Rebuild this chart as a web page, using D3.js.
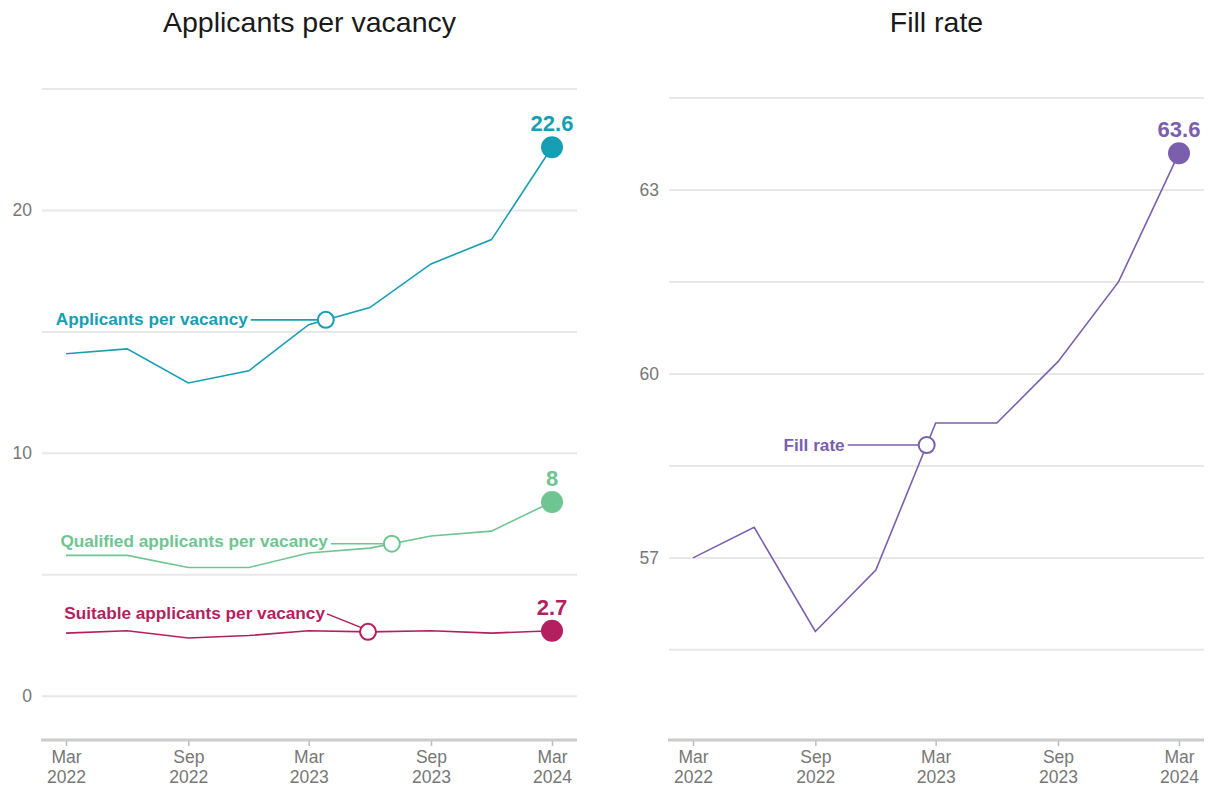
<!DOCTYPE html>
<html>
<head>
<meta charset="utf-8">
<script src="https://cdn.jsdelivr.net/npm/d3@7"></script>
<style>
  body { margin: 0; background: #fff; }
  svg { display: block; font-family: "Liberation Sans", Arial, sans-serif; }
</style>
</head>
<body>
<svg id="chart" width="1208" height="787"></svg>
<script>
// quarterly observations, Mar 2022 - Mar 2024
const months = ["2022-03", "2022-06", "2022-09", "2022-12", "2023-03", "2023-06", "2023-09", "2023-12", "2024-03"];
const applicants = [14.1, 14.3, 12.9, 13.4, 15.3, 16.0, 17.8, 18.8, 22.6];
const qualified = [5.8, 5.8, 5.3, 5.3, 5.9, 6.1, 6.6, 6.8, 8.0];
const suitable = [2.6, 2.7, 2.4, 2.5, 2.7, 2.65, 2.7, 2.6, 2.7];
const fillRate = [57.0, 57.5, 55.8, 56.8, 59.2, 59.2, 60.2, 61.5, 63.6];

const xTicks = ["2022-03", "2022-09", "2023-03", "2023-09", "2024-03"];
const leftGrid = [0, 5, 10, 15, 20, 25];
const leftLabels = [0, 10, 20];
const rightGrid = [55.5, 57, 58.5, 60, 61.5, 63, 64.5];
const rightLabels = [57, 60, 63];

const parse = d3.timeParse("%Y-%m");
const dates = months.map(parse);
const fmtMon = d3.timeFormat("%b");
const fmtYear = d3.timeFormat("%Y");

const svg = d3.select("#chart");
const axisY = 740;

function panel(opts) {
    const g = svg.append("g");
    const x = d3.scaleTime().domain(d3.extent(dates)).range([opts.x0, opts.x0 + 486]);
    const y = d3.scaleLinear().domain(opts.yDomain).range([axisY, opts.yTop]);
    const gl = opts.x0 - 24, gr = opts.x0 + 486 + 25;

    g.append("text")
        .attr("x", (gl + gr) / 2).attr("y", 32)
        .attr("text-anchor", "middle")
        .attr("font-size", 28.5).attr("fill", "#1a1a1a")
        .text(opts.title);

    g.selectAll("line.grid").data(opts.grid).enter().append("line")
        .attr("class", "grid")
        .attr("x1", gl).attr("x2", gr)
        .attr("y1", d => y(d)).attr("y2", d => y(d))
        .attr("stroke", "#e8e8e8").attr("stroke-width", 2);

    g.selectAll("text.ylab").data(opts.labels).enter().append("text")
        .attr("class", "ylab")
        .attr("x", gl - 10).attr("y", d => y(d) + 6)
        .attr("text-anchor", "end")
        .attr("font-size", 17.5).attr("fill", "#777")
        .text(d => d);

    // x axis
    const xAxis = d3.axisBottom(x).tickValues(xTicks.map(parse)).tickSize(6).tickFormat("");
    const ax = g.append("g").attr("transform", `translate(0,${axisY})`).call(xAxis);
    ax.select(".domain").remove();
    ax.selectAll(".tick line").attr("stroke", "#bbb").attr("stroke-width", 1.5);
    ax.selectAll(".tick").each(function (d) {
        const t = d3.select(this).append("text")
            .attr("text-anchor", "middle").attr("font-size", 17.5).attr("fill", "#777");
        t.append("tspan").attr("x", 0).attr("y", 23).text(fmtMon(d));
        t.append("tspan").attr("x", 0).attr("y", 43).text(fmtYear(d));
    });
    g.append("line")
        .attr("x1", gl - 1).attr("x2", gr)
        .attr("y1", axisY).attr("y2", axisY)
        .attr("stroke", "#ccc").attr("stroke-width", 3);

    const line = d3.line().x((d, i) => x(dates[i])).y(d => y(d));

    opts.series.forEach(s => {
        g.append("path").datum(s.values)
            .attr("d", line)
            .attr("fill", "none").attr("stroke", s.color).attr("stroke-width", 1.6);

        // end point + value
        const n = s.values.length - 1;
        const ex = x(dates[n]), ey = y(s.values[n]);
        g.append("circle").attr("cx", ex).attr("cy", ey).attr("r", 11).attr("fill", s.color);
        g.append("text")
            .attr("x", ex).attr("y", ey - 16)
            .attr("text-anchor", "middle")
            .attr("font-size", 22).attr("font-weight", "bold").attr("fill", s.color)
            .text(s.values[n]);

        // label anchor on the line
        const i0 = Math.floor(s.at), f = s.at - i0;
        const mx = x(dates[i0]) + f * (x(dates[i0 + 1]) - x(dates[i0]));
        const my = y(s.values[i0]) + f * (y(s.values[i0 + 1]) - y(s.values[i0]));
        const lx = mx - s.dx, ly = my - s.dy;
        const d = s.dy
            ? `M${lx + 2},${ly} L${mx - 6},${my - 4}`
            : `M${lx + 3},${ly} L${mx - 8},${ly}`;
        g.append("path")
            .attr("d", d)
            .attr("fill", "none").attr("stroke", s.color).attr("stroke-width", 1.6);
        g.append("circle").attr("cx", mx).attr("cy", my).attr("r", 8)
            .attr("fill", "#fff").attr("stroke", s.color).attr("stroke-width", 2);
        g.append("text")
            .attr("x", lx).attr("y", ly + 5.5 - (s.lift || 0))
            .attr("text-anchor", "end")
            .attr("font-size", 17.2).attr("font-weight", "bold").attr("fill", s.color)
            .text(s.name);
    });
}

panel({
    title: "Applicants per vacancy",
    x0: 66, yDomain: [-1.8, 25], yTop: 89,
    grid: leftGrid, labels: leftLabels,
    series: [
        { name: "Applicants per vacancy", values: applicants, color: "#169fb4", at: 4.28, dx: 78, dy: 0 },
        { name: "Qualified applicants per vacancy", values: qualified, color: "#6fc592", at: 5.36, dx: 64, dy: 0, lift: 2 },
        { name: "Suitable applicants per vacancy", values: suitable, color: "#b41f60", at: 4.97, dx: 43, dy: 18 }
    ]
});

panel({
    title: "Fill rate",
    x0: 693, yDomain: [54.03, 64.5], yTop: 98,
    grid: rightGrid, labels: rightLabels,
    series: [
        { name: "Fill rate", values: fillRate, color: "#7a5fae", at: 3.85, dx: 82, dy: 0 }
    ]
});
</script>
</body>
</html>
